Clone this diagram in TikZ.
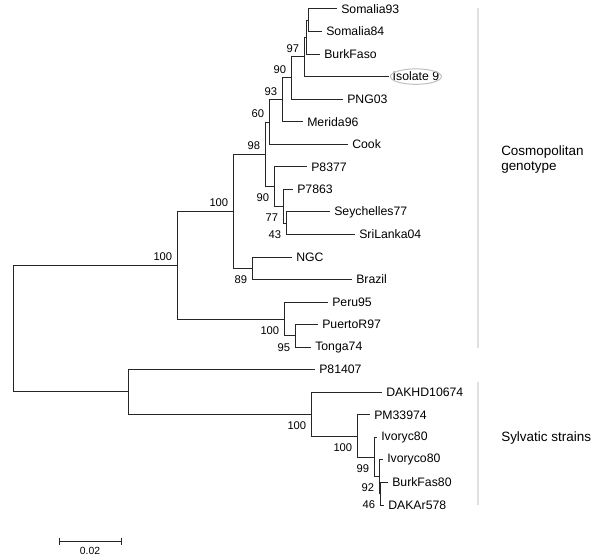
\documentclass[tikz,border=0pt]{standalone}
\usepackage{fontspec}
\setmainfont{Liberation Sans}
\usepackage{xcolor}

\tikzset{
  leaf/.style={anchor=west, inner xsep=3pt, inner ysep=1pt, font=\fontsize{9.2}{11}\selectfont},
  bsup/.style={anchor=east, inner sep=0pt, xshift=-3.4pt, yshift=6.4pt, font=\fontsize{8.4}{10}\selectfont},
  bsdown/.style={anchor=east, inner sep=0pt, xshift=-3.4pt, yshift=-8.5pt, font=\fontsize{8.4}{10}\selectfont},
  branch/.style={draw=black!85, line width=0.75pt},
  clade/.style={draw=black!12, line width=1.5pt},
  cladelabel/.style={anchor=west, align=left, inner sep=0pt, font=\fontsize{10.1}{11.25}\selectfont},
}

\begin{document}
\begin{tikzpicture}[x=0.75pt, y=-0.75pt]
\useasboundingbox (0,0) rectangle (600,560);

% leaves
\node[leaf] (Som93) at (337,9) {Somalia93};
\node[leaf] (Som84) at (322,31.5) {Somalia84};
\node[leaf] (Burk) at (320,54.1) {BurkFaso};
\node[leaf, inner xsep=2.6pt] (Iso) at (389,76.6) {Isolate 9};
\node[leaf] (PNG) at (343,99.2) {PNG03};
\node[leaf] (Mer) at (303,121.7) {Merida96};
\node[leaf] (Cook) at (348,144.3) {Cook};
\node[leaf] (P8377) at (307,166.8) {P8377};
\node[leaf] (P7863) at (293,189.4) {P7863};
\node[leaf] (Sey) at (330,211.9) {Seychelles77};
\node[leaf] (Sri) at (355,234.5) {SriLanka04};
\node[leaf] (NGC) at (292,257) {NGC};
\node[leaf] (Bra) at (352,279.5) {Brazil};
\node[leaf] (Peru) at (328,302.1) {Peru95};
\node[leaf] (Pue) at (318,324.6) {PuertoR97};
\node[leaf] (Ton) at (311,347.2) {Tonga74};
\node[leaf] (P81) at (315,369.7) {P81407};
\node[leaf] (DAKHD) at (382,392.3) {DAKHD10674};
\node[leaf] (PM) at (370,414.8) {PM33974};
\node[leaf] (Ivc) at (377,437.4) {Ivoryc80};
\node[leaf] (Ivco) at (383,459.9) {Ivoryco80};
\node[leaf] (BF80) at (388,482.5) {BurkFas80};
\node[leaf] (DAK) at (384,505) {DAKAr578};

\draw[draw=black!25, line width=0.75pt] (Iso.center) ellipse [x radius=19.1pt, y radius=5.8pt];

% internal nodes
\coordinate (S1) at (308,20.3);
\coordinate (S2) at (306,37.2);
\coordinate (N97) at (304,56.9);
\coordinate (N90) at (291,78);
\coordinate (N93) at (282,99.9);
\coordinate (N60) at (269,122.1);
\coordinate (N43) at (286,223.2);
\coordinate (N77) at (283,206.3);
\coordinate (N90b) at (274,186.6);
\coordinate (N98) at (265,154.4);
\coordinate (N89) at (252,268.3);
\coordinate (NC) at (233,211.3);
\coordinate (N95) at (295,335.9);
\coordinate (NA) at (284,319);
\coordinate (NCA) at (177,265.2);
\coordinate (N46) at (380,493.7);
\coordinate (N92) at (379,476.8);
\coordinate (N99) at (374,457.1);
\coordinate (NB) at (357,436);
\coordinate (NSy) at (311,414.1);
\coordinate (NSA) at (128,391.9);
\coordinate (Root) at (13,328.5);

% branches
\path[branch] (S1) |- (Som93.west);
\path[branch] (S1) |- (Som84.west);
\path[branch] (S2) |- (S1);
\path[branch] (S2) |- (Burk.west);
\path[branch] (N97) |- (S2);
\path[branch] (N97) |- (Iso.west);
\path[branch] (N90) |- (N97);
\path[branch] (N90) |- (PNG.west);
\path[branch] (N93) |- (N90);
\path[branch] (N93) |- (Mer.west);
\path[branch] (N60) |- (N93);
\path[branch] (N60) |- (Cook.west);
\path[branch] (N43) |- (Sey.west);
\path[branch] (N43) |- (Sri.west);
\path[branch] (N77) |- (P7863.west);
\path[branch] (N77) |- (N43);
\path[branch] (N90b) |- (P8377.west);
\path[branch] (N90b) |- (N77);
\path[branch] (N98) |- (N60);
\path[branch] (N98) |- (N90b);
\path[branch] (N89) |- (NGC.west);
\path[branch] (N89) |- (Bra.west);
\path[branch] (NC) |- (N98);
\path[branch] (NC) |- (N89);
\path[branch] (N95) |- (Pue.west);
\path[branch] (N95) |- (Ton.west);
\path[branch] (NA) |- (Peru.west);
\path[branch] (NA) |- (N95);
\path[branch] (NCA) |- (NC);
\path[branch] (NCA) |- (NA);
\path[branch] (N46) |- (BF80.west);
\path[branch] (N46) |- (DAK.west);
\path[branch] (N92) |- (Ivco.west);
\path[branch] (N92) |- (N46);
\path[branch] (N99) |- (Ivc.west);
\path[branch] (N99) |- (N92);
\path[branch] (NB) |- (PM.west);
\path[branch] (NB) |- (N99);
\path[branch] (NSy) |- (DAKHD.west);
\path[branch] (NSy) |- (NB);
\path[branch] (NSA) |- (P81.west);
\path[branch] (NSA) |- (NSy);
\path[branch] (Root) |- (NCA);
\path[branch] (Root) |- (NSA);

% bootstrap values
\node[bsup] (L97) at (N97) {97};
\node[bsup] (L90) at (N90) {90};
\node[bsup] (L93) at (N93) {93};
\node[bsup] (L60) at (N60) {60};
\node[bsup] (L98) at (N98) {98};
\node[bsup] (LC) at (NC) {100};
\node[bsup] (LCA) at (NCA) {100};
\node[bsdown] (L90b) at (N90b) {90};
\node[bsdown] (L77) at (N77) {77};
\node[bsdown] (L43) at (N43) {43};
\node[bsdown] (L89) at (N89) {89};
\node[bsdown] (LA) at (NA) {100};
\node[bsdown] (L95) at (N95) {95};
\node[bsdown] (LSy) at (NSy) {100};
\node[bsdown] (LB) at (NB) {100};
\node[bsdown] (L99) at (N99) {99};
\node[bsdown] (L92) at (N92) {92};
\node[bsdown] (L46) at (N46) {46};

% clade bars
\coordinate (CT) at (478,8);
\coordinate (CB) at (478,348);
\coordinate (ST) at (478,382);
\coordinate (SB) at (478,505);
\path[clade] (CT) -- (CB);
\path[clade] (ST) -- (SB);
\node[cladelabel] (Cosmo) at (501,159.5) {Cosmopolitan\\genotype};
\node[cladelabel] (Sylv) at (501,438) {Sylvatic strains};

% scale bar
\coordinate (SB1) at (59,541);
\coordinate (SB2) at (121,541);
\draw[branch] (SB1) -- (SB2);
\draw[branch] (SB1) ++(0,-3.5) -- ++(0,7);
\draw[branch] (SB2) ++(0,-3.5) -- ++(0,7);
\node[font=\fontsize{7.8}{9}\selectfont, inner sep=0pt] (Scale) at (90,551) {0.02};

\end{tikzpicture}
\end{document}
